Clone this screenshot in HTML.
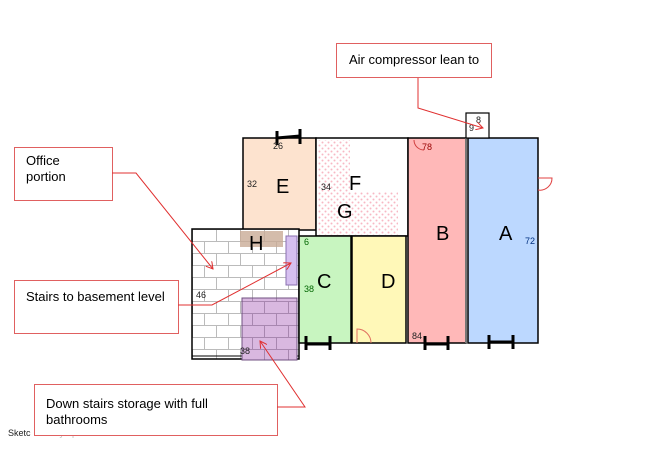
<!DOCTYPE html>
<html><head><meta charset="utf-8"><style>
html,body{margin:0;padding:0;background:#fff;}
svg{display:block;font-family:"Liberation Sans",Arial,sans-serif;}
</style></head><body>
<svg width="650" height="464" viewBox="0 0 650 464" xmlns="http://www.w3.org/2000/svg">
<defs>
<pattern id="dots" width="6" height="6" patternUnits="userSpaceOnUse">
<circle cx="1.5" cy="1.5" r="1" fill="#f7b8c4"/><circle cx="4.5" cy="4.5" r="1" fill="#f7b8c4"/>
</pattern>
<pattern id="brick" width="24" height="24" patternUnits="userSpaceOnUse" x="192" y="229">
<rect width="24" height="24" fill="#fff"/>
<path d="M0 0.5H24M0 12.5H24M0.5 0V12M12.5 12V24" stroke="#bbb" stroke-width="1" fill="none"/>
</pattern>
<pattern id="pbrick" width="24" height="24" patternUnits="userSpaceOnUse" x="192" y="229">
<rect width="24" height="24" fill="#d9b8e0"/>
<path d="M0 0.5H24M0 12.5H24M0.5 0V12M12.5 12V24" stroke="#a887b0" stroke-width="1" fill="none"/>
</pattern>
<marker id="ar" markerWidth="8" markerHeight="8" refX="7" refY="4" orient="auto"><path d="M0 0L7 4L0 8" fill="none" stroke="#e03030" stroke-width="1"/></marker>
</defs>

<text x="8" y="436" font-size="9" fill="#222">Sketc</text>
<text x="47" y="436" font-size="9" fill="#bbb">h by Apex Medina</text>

<rect x="243" y="138" width="73" height="92" fill="#fde3cf" stroke="#000" stroke-width="1.5"/>
<rect x="316" y="138" width="92" height="98" fill="#fff" stroke="#000" stroke-width="1.5"/>
<rect x="318" y="140" width="32" height="95" fill="url(#dots)"/>
<rect x="350" y="192" width="48" height="43" fill="url(#dots)"/>
<rect x="192" y="229" width="107" height="130" fill="url(#brick)" stroke="#000" stroke-width="1.5"/>
<line x1="192" y1="356" x2="299" y2="356" stroke="#000"/>
<rect x="240" y="231" width="43" height="16" fill="#c9ab96" opacity="0.8"/>
<rect x="286" y="236" width="11" height="49" fill="#d6c0f0" stroke="#8a70b0"/>
<rect x="242" y="298" width="55" height="62" fill="url(#pbrick)" stroke="#705080"/>
<rect x="299" y="236" width="52" height="107" fill="#c8f5c0" stroke="#000" stroke-width="1.5"/>
<rect x="352" y="236" width="54" height="107" fill="#fff8b8" stroke="#000" stroke-width="1.5"/>
<rect x="408" y="138" width="58" height="205" fill="#ffb8b8" stroke="#000" stroke-width="1.5"/>
<rect x="468" y="138" width="70" height="205" fill="#bcd8ff" stroke="#000" stroke-width="1.5"/>
<line x1="466" y1="138" x2="466" y2="343" stroke="#777" stroke-width="2"/>
<rect x="466" y="113" width="23" height="25" fill="#fff" stroke="#000" stroke-width="1.2"/>
<path d="M357 343V329A14 14 0 0 1 371 343" fill="none" stroke="#e07060"/>
<path d="M414 140A10 10 0 0 0 424 150" fill="none" stroke="#d04040"/>
<path d="M538 178H552A12 12 0 0 1 538 190" fill="none" stroke="#e04040"/>
<g stroke="#000" stroke-width="3" fill="none">
<path d="M277 131V145M300 129V144M277 138L300 136"/>
<path d="M306 336V350M330 336V350M306 344H330"/>
<path d="M425 336V350M448 336V350M425 344H448"/>
<path d="M489 335V349M513 335V349M489 342H513"/>
</g>
<g font-size="20" fill="#000">
<text x="276" y="193">E</text><text x="349" y="190">F</text><text x="337" y="218">G</text>
<text x="249" y="250">H</text><text x="317" y="288">C</text><text x="381" y="288">D</text>
<text x="436" y="240">B</text><text x="499" y="240">A</text>
</g>
<g font-size="9" fill="#222">
<text x="273" y="149">26</text><text x="247" y="187">32</text><text x="321" y="190">34</text>
<text x="304" y="245" fill="#060">6</text><text x="304" y="292" fill="#060">38</text>
<text x="196" y="298">46</text><text x="240" y="354">38</text>
<text x="422" y="150" fill="#900">78</text><text x="412" y="339">84</text>
<text x="525" y="244" fill="#003080">72</text>
<text x="476" y="123">8</text><text x="469" y="131">9</text>
</g>
<g fill="#fff" stroke="#e06060" stroke-width="1">
<rect x="336.5" y="43.5" width="155" height="34"/>
<rect x="14.5" y="147.5" width="98" height="53"/>
<rect x="14.5" y="280.5" width="164" height="53"/>
<rect x="34.5" y="384.5" width="243" height="51"/>
</g>
<g stroke="#e03030" stroke-width="1" fill="none">
<path d="M418 78V108L483 128" marker-end="url(#ar)"/>
<path d="M112 173H136L213 269" marker-end="url(#ar)"/>
<path d="M178 305H212L291 263" marker-end="url(#ar)"/>
<path d="M277 407H305L260 341" marker-end="url(#ar)"/>
</g>
<g font-size="13" fill="#000">
<text x="349" y="64">Air compressor lean to</text>
<text x="26" y="165">Office</text><text x="26" y="181">portion</text>
<text x="26" y="301">Stairs to basement level</text>
<text x="46" y="408">Down stairs storage with full</text><text x="46" y="424">bathrooms</text>
</g>
</svg>
</body></html>
